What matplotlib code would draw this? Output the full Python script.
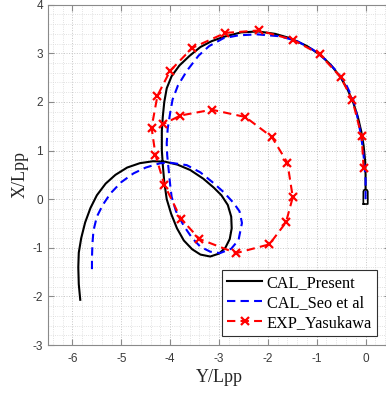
import matplotlib
matplotlib.use("Agg")
import matplotlib.pyplot as plt
from matplotlib.ticker import AutoMinorLocator

# Turning-circle trajectories (Y/Lpp on horizontal axis, X/Lpp on vertical axis)
present_y = [0.0, 0.0, -0.01, -0.04, -0.09, -0.16, -0.25, -0.37, -0.52, -0.71, -0.93,
             -1.20, -1.54, -1.85, -2.20, -2.55, -2.90, -3.15, -3.38, -3.60, -3.81,
             -3.97, -4.07, -4.12, -4.15, -4.17, -4.17, -4.15, -4.12, -4.07, -3.98,
             -3.86, -3.72, -3.55, -3.38, -3.18, -3.00, -2.87, -2.78, -2.74, -2.75,
             -2.82, -2.95, -3.11, -3.32, -3.59, -3.85, -4.10, -4.35, -4.62, -4.88,
             -5.12, -5.32, -5.50, -5.63, -5.74, -5.82, -5.87, -5.88, -5.87, -5.84]
present_x = [0.20, 0.50, 0.80, 1.10, 1.40, 1.70, 1.98, 2.26, 2.52, 2.76, 2.97,
             3.15, 3.31, 3.40, 3.45, 3.43, 3.34, 3.25, 3.13, 2.95, 2.75,
             2.53, 2.28, 2.00, 1.70, 1.40, 1.01, 0.70, 0.35, 0.00, -0.30,
             -0.60, -0.85, -1.03, -1.14, -1.18, -1.12, -1.00, -0.82, -0.60, -0.36,
             -0.12, 0.08, 0.24, 0.42, 0.60, 0.71, 0.77, 0.78, 0.74, 0.65,
             0.50, 0.32, 0.08, -0.18, -0.48, -0.80, -1.10, -1.40, -1.75, -2.07]

seo_y = [0.0, 0.0, -0.02, -0.05, -0.10, -0.17, -0.25, -0.40, -0.59, -0.82, -1.07,
         -1.40, -1.75, -2.22, -2.60, -2.91, -3.20, -3.42, -3.65, -3.84, -3.95,
         -4.00, -4.05, -4.07, -4.06, -4.03, -4.00, -3.97, -3.88, -3.72, -3.55,
         -3.38, -3.18, -2.98, -2.75, -2.60, -2.53, -2.58, -2.70, -2.90, -3.11,
         -3.38, -3.66, -4.00, -4.20, -4.50, -4.75, -5.00, -5.22, -5.38, -5.50,
         -5.57, -5.59, -5.60, -5.60]
seo_x = [0.0, 0.40, 0.67, 1.00, 1.35, 1.70, 2.04, 2.36, 2.63, 2.87, 3.07,
         3.25, 3.35, 3.39, 3.37, 3.31, 3.15, 2.95, 2.65, 2.34, 2.05,
         1.77, 1.45, 1.15, 0.90, 0.60, 0.30, 0.05, -0.25, -0.55, -0.80,
         -0.98, -1.08, -1.11, -1.02, -0.84, -0.49, -0.25, -0.08, 0.14, 0.33,
         0.55, 0.70, 0.75, 0.74, 0.65, 0.53, 0.35, 0.12, -0.12, -0.36,
         -0.65, -0.91, -1.20, -1.50]

exp_y = [-0.04, -0.08, -0.27, -0.51, -0.94, -1.49, -2.19, -2.87, -3.55, -4.00,
         -4.26, -4.38, -4.30, -4.12, -3.78, -3.40, -2.65, -1.97, -1.63, -1.49,
         -1.60, -1.92, -2.46, -3.15, -3.79, -4.15]
exp_x = [0.64, 1.29, 2.04, 2.51, 2.98, 3.28, 3.47, 3.42, 3.11, 2.64,
         2.13, 1.47, 0.91, 0.30, -0.40, -0.82, -1.11, -0.93, -0.48, 0.04,
         0.75, 1.28, 1.69, 1.84, 1.72, 1.54]

# Ship outline at the start position
ship_y = [-0.045, 0.045, 0.046, 0.045, 0.03, 0.0, -0.03, -0.045, -0.046, -0.045]
ship_x = [-0.10, -0.10, 0.02, 0.16, 0.19, 0.20, 0.19, 0.16, 0.02, -0.10]

labels = ["CAL_Present", "CAL_Seo et al", "EXP_Yasukawa"]
x_ticks = [-6, -5, -4, -3, -2, -1, 0]
y_ticks = [-3, -2, -1, 0, 1, 2, 3, 4]

plt.rcParams["axes.unicode_minus"] = False

fig = plt.figure(figsize=(3.86, 3.95), dpi=100)
ax = fig.add_axes([48 / 386, 50 / 395, 342 / 386, 340.3 / 395])

ax.plot(present_y, present_x, color="black", lw=1.5, label=labels[0], zorder=3)
ax.plot(seo_y, seo_x, color="#0000ff", lw=1.5, ls=(0, (4, 2.5)), label=labels[1], zorder=3)
ax.plot(exp_y, exp_x, color="#ff0000", lw=1.5, ls=(0, (4, 2.5)), marker="x",
        ms=6, mew=1.6, label=labels[2], zorder=4)
ax.plot(ship_y, ship_x, color="black", lw=1.2, zorder=5)

ax.set_xlim(-6.5, 0.5)
ax.set_ylim(-3, 4)
ax.set_xticks(x_ticks)
ax.set_yticks(y_ticks)
ax.xaxis.set_minor_locator(AutoMinorLocator(5))
ax.yaxis.set_minor_locator(AutoMinorLocator(5))

ax.grid(which="major", color="#c4c4c4", ls=":", lw=0.7)
ax.grid(which="minor", color="#d8d8d8", ls=":", lw=0.6)
ax.set_axisbelow(True)

spine_c = "#8a8a8a"
for s in ax.spines.values():
    s.set_color(spine_c)
    s.set_linewidth(0.8)

ax.tick_params(which="major", direction="in", length=4, width=0.8, color=spine_c,
               top=True, right=True, labelsize=8.5, labelcolor="#3a3a3a")
ax.tick_params(which="minor", length=0, top=True, right=True)
ax.tick_params(axis="x", pad=6)
ax.tick_params(axis="y", pad=3.5)
for t in ax.get_xticklabels() + ax.get_yticklabels():
    t.set_fontfamily("Liberation Sans")

ax.set_xlabel("Y/Lpp", family="Liberation Serif", fontsize=13, color="#262626")
ax.set_ylabel("X/Lpp", family="Liberation Serif", fontsize=13, color="#262626")
ax.xaxis.set_label_coords(0.5, -0.07)
ax.yaxis.set_label_coords(-0.058, 0.5)

leg = ax.legend(loc="lower right", bbox_to_anchor=(0.961, 0.0273), borderaxespad=0,
                prop={"family": "Liberation Serif", "size": 11.7},
                fancybox=False, framealpha=1, edgecolor="#303030",
                handlelength=2.2, handletextpad=0.25, labelspacing=0.25,
                borderpad=0.3)
leg.get_frame().set_linewidth(0.8)

fig.savefig("out.png", dpi=100)
